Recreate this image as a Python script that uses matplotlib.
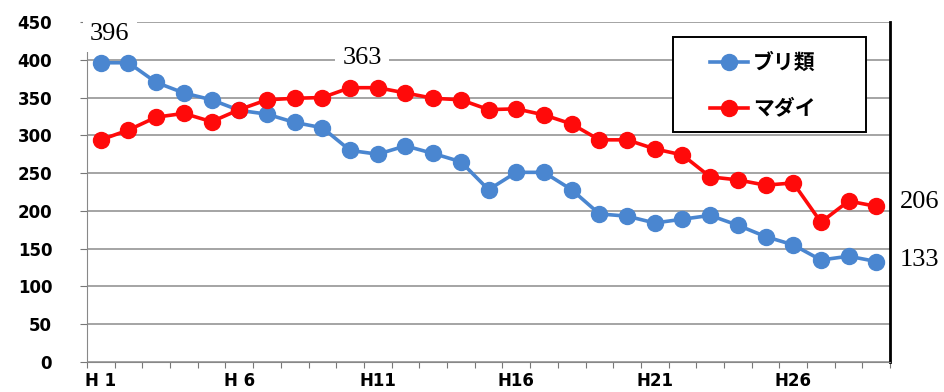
import numpy as np
import matplotlib.pyplot as plt
from matplotlib.patches import Rectangle
from matplotlib.lines import Line2D

plt.rcParams['font.family'] = ['DejaVu Sans', 'Noto Sans CJK JP']

# 平成1年〜29年
years = np.arange(1, 30)
tick_labels = ['H 1', 'H 6', 'H11', 'H16', 'H21', 'H26']
tick_years = [1, 6, 11, 16, 21, 26]

buri = [396, 396, 370, 356, 347, 333, 328, 317, 310, 280,
        275, 286, 276, 265, 228, 251, 251, 228, 196, 193,
        184, 189, 194, 181, 166, 155, 135, 140, 133]
madai = [294, 307, 324, 329, 318, 334, 347, 349, 350, 363,
         363, 356, 349, 347, 334, 335, 327, 315, 294, 294,
         282, 274, 245, 241, 234, 237, 185, 213, 206]

blue = '#4a86d0'
red = '#ff0a0a'

fig = plt.figure(figsize=(9.45, 3.92), dpi=100)
ax = fig.add_axes([0.092, 0.0765, 0.85, 0.8675])

ax.plot(years, buri, color=blue, linewidth=2.6, marker='o',
        markersize=11.5, zorder=3)
ax.plot(years, madai, color=red, linewidth=2.6, marker='o',
        markersize=11.5, zorder=3)

ax.set_xlim(0.5, 29.5)
ax.set_ylim(0, 450)
ax.set_yticks(np.arange(0, 451, 50))
ax.yaxis.grid(True, color='#8c8c8c', linewidth=1.1)
ax.set_axisbelow(True)

ax.set_xticks(np.arange(0.5, 30, 1))
ax.set_xticklabels([])
ax.tick_params(axis='x', length=4, color='#777777', direction='out')
ax.set_xticks(tick_years, minor=True)
ax.set_xticklabels(tick_labels, minor=True)
ax.tick_params(axis='x', which='minor', length=0, pad=7)
for t in ax.get_xticklabels(minor=True):
    t.set_fontweight('bold')
    t.set_fontsize(12)
ax.tick_params(axis='y', length=5, color='#777777', pad=20, labelsize=12)
for t in ax.get_yticklabels():
    t.set_fontweight('bold')

ax.spines['top'].set_visible(False)
ax.spines['left'].set_color('#888888')
ax.spines['bottom'].set_color('#888888')
ax.spines['right'].set_color('black')
ax.spines['right'].set_linewidth(2)

serif = ['Liberation Serif', 'DejaVu Serif']
box = dict(facecolor='white', edgecolor='none', pad=5)
ax.text(1.33, 434, str(buri[0]), fontsize=19, family=serif, ha='center',
        va='center', bbox=box, zorder=4)
ax.text(10.43, 402, str(madai[10]), fontsize=19, family=serif, ha='center',
        va='center', bbox=box, zorder=4)
ax.text(30.57, madai[-1] + 6, str(madai[-1]), fontsize=19, family=serif,
        ha='center', va='center', clip_on=False)
ax.text(30.57, buri[-1] + 2, str(buri[-1]), fontsize=19, family=serif,
        ha='center', va='center', clip_on=False)

# 凡例（手書き）
ax.add_patch(Rectangle((0.730, 0.676), 0.240, 0.280, transform=ax.transAxes,
                       facecolor='white', edgecolor='black', linewidth=1.4,
                       zorder=5))
for yy, col, name in [(0.882, blue, 'ブリ類'), (0.747, red, 'マダイ')]:
    ax.add_line(Line2D([0.776, 0.823], [yy, yy], transform=ax.transAxes,
                       color=col, linewidth=2.6, zorder=6))
    ax.add_line(Line2D([0.799], [yy], transform=ax.transAxes, color=col,
                       marker='o', markersize=11.5, zorder=6))
    ax.text(0.829, yy, name, transform=ax.transAxes, va='center', ha='left',
            fontsize=15, fontweight='bold', family='Noto Sans CJK JP', zorder=6)

fig.savefig('out.png', dpi=100)
